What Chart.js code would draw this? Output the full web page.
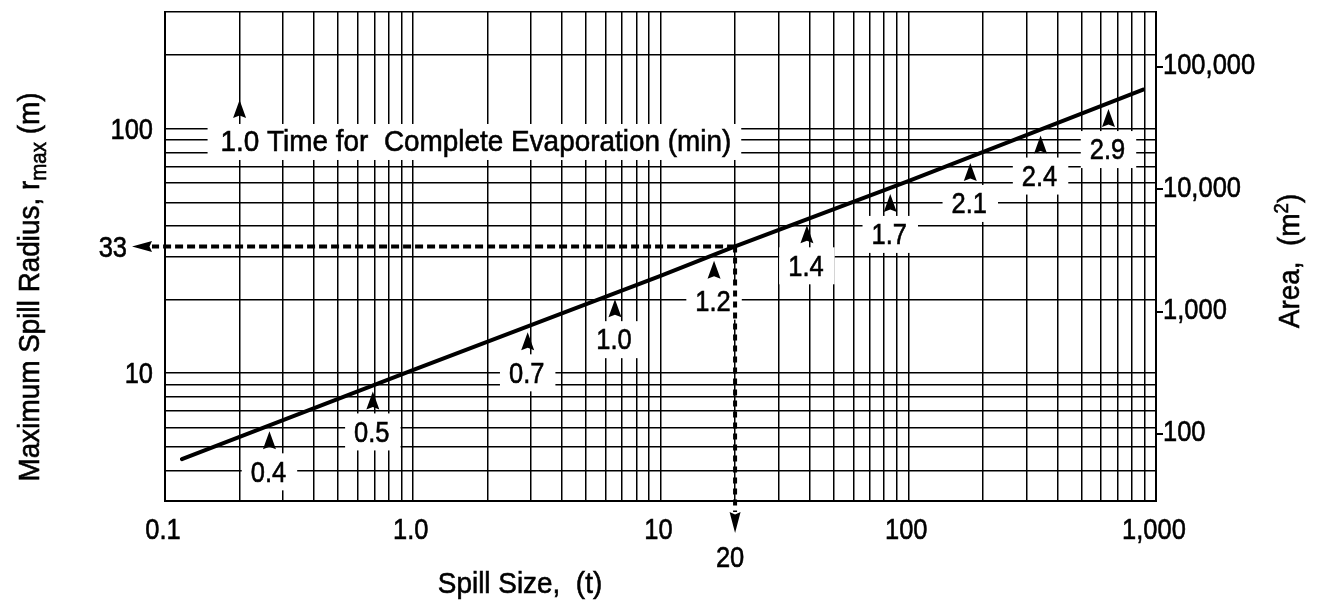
<!DOCTYPE html>
<html>
<head>
<meta charset="utf-8">
<script src="https://cdn.jsdelivr.net/npm/chart.js@4.4.1/dist/chart.umd.min.js"></script>
<style>
  html, body { margin: 0; padding: 0; background: #fff; }
  #wrap { width: 1322px; height: 604px; }
</style>
</head>
<body>
<div id="wrap"><canvas id="chart" width="1322" height="604"></canvas></div>
<script>
// Spill size (t) against maximum spill radius (m)
const spillSize   = [0.117, 1, 10, 20, 100, 887];
const spillRadius = [4.45, 10.3, 25.0, 33, 61, 144.5];

// Time for complete evaporation (min), marked along the curve at these spill sizes
const evapSpill = [0.264, 0.69, 2.91, 6.55, 16.45, 39.0, 84.6, 178, 342, 643];
const evapLabel = ['0.4', '0.5', '0.7', '1.0', '1.2', '1.4', '1.7', '2.1', '2.4', '2.9'];

// Key marker
const keySpill = 0.2;
const keyRadius = 131;
const keyText = '1.0 Time for  Complete Evaporation (min)';

// Worked example: a 20 t spill reaches a 33 m radius
const exampleSpill = 20;
const exampleRadius = 33;

// Axis ranges and labelled ticks
const xMin = 0.1, xMax = 1000;
const yMin = 3, yMax = 300;
const xTickValues = [0.1, 1, 10, 100, 1000];
const xTickLabels = ['0.1', '1.0', '10', '100', '1,000'];
const yTickValues = [10, 100];
const yTickLabels = ['10', '100'];
const areaTickValues = [100, 1000, 10000, 100000];
const areaTickLabels = ['100', '1,000', '10,000', '100,000'];

const INK = '#000';
const FONT = '"Liberation Sans", Arial, sans-serif';
const FS = 30;
const NUM_SQUEEZE = 0.85;   // condensed face for figures
const WORD_SQUEEZE = 0.93;  // condensed face for words
const TEXT_WEIGHT = 0.6;    // extra outline to darken the lettering

// every 1..9 multiple of each decade between min and max (log graph paper)
function logGrid(min, max) {
  const out = [];
  for (let e = Math.floor(Math.log10(min)); e <= Math.ceil(Math.log10(max)); e++) {
    for (let m = 1; m <= 9; m++) {
      const v = m * Math.pow(10, e);
      if (v >= min * 0.9999 && v <= max * 1.0001) out.push(v);
    }
  }
  return out;
}

// radius on the curve at spill size s (straight segments in log-log space)
function radiusOnCurve(s) {
  const ls = Math.log10(s);
  for (let i = 0; i < spillSize.length - 1; i++) {
    const a = Math.log10(spillSize[i]), b = Math.log10(spillSize[i + 1]);
    if (ls <= b || i === spillSize.length - 2) {
      const t = (ls - a) / (b - a);
      const ra = Math.log10(spillRadius[i]), rb = Math.log10(spillRadius[i + 1]);
      return Math.pow(10, ra + t * (rb - ra));
    }
  }
}

// condensed text helpers
function textWidth(ctx, text, squeeze) {
  return ctx.measureText(text).width * squeeze;
}
function ink(ctx, text, x, y) {
  ctx.fillText(text, x, y);
  ctx.strokeText(text, x, y);
}
function drawText(ctx, text, x, y, align, squeeze) {
  ctx.save();
  ctx.translate(x, y);
  ctx.scale(squeeze, 1);
  ctx.textAlign = align;
  ctx.textBaseline = 'middle';
  ctx.fillStyle = INK;
  ctx.strokeStyle = INK;
  ctx.lineWidth = TEXT_WEIGHT;
  ink(ctx, text, 0, 0);
  ctx.restore();
}
// a run of [text, fontSize, baselineShift] pieces centred on (x, y), optionally rotated
function drawRun(ctx, parts, x, y, angle, squeeze) {
  ctx.save();
  ctx.translate(x, y);
  ctx.rotate(angle);
  ctx.scale(squeeze, 1);
  ctx.textBaseline = 'middle';
  ctx.textAlign = 'left';
  ctx.fillStyle = INK;
  ctx.strokeStyle = INK;
  ctx.lineWidth = TEXT_WEIGHT;
  let total = 0;
  parts.forEach(p => { ctx.font = `${p[1]}px ${FONT}`; total += ctx.measureText(p[0]).width; });
  let cx = -total / 2;
  parts.forEach(p => {
    ctx.font = `${p[1]}px ${FONT}`;
    ink(ctx, p[0], cx, p[2]);
    cx += ctx.measureText(p[0]).width;
  });
  ctx.restore();
}

function arrowHead(ctx, x, y, dir, len, half) {
  ctx.save();
  ctx.translate(x, y);
  ctx.rotate({ up: 0, down: Math.PI, left: -Math.PI / 2 }[dir]);
  ctx.beginPath();
  ctx.moveTo(0, 0);
  ctx.lineTo(half, len);
  ctx.lineTo(0, len - 2.5);
  ctx.lineTo(-half, len);
  ctx.closePath();
  ctx.fillStyle = INK;
  ctx.fill();
  ctx.restore();
}

const overlay = {
  id: 'overlay',
  beforeDatasetsDraw(chart) {
    const { ctx } = chart;
    const xs = chart.scales.x, ys = chart.scales.y;
    ctx.save();
    ctx.font = `${FS}px ${FONT}`;

    // evaporation-time labels on white patches, arrows pointing at the curve
    evapSpill.forEach((s, i) => {
      const px = xs.getPixelForValue(s);
      const py = ys.getPixelForValue(radiusOnCurve(s));
      const labelY = py + 47;
      const w = textWidth(ctx, evapLabel[i], NUM_SQUEEZE);
      ctx.fillStyle = '#fff';
      ctx.fillRect(px - w / 2 - 10, labelY - 19, w + 20, 37);
      drawText(ctx, evapLabel[i], px - 1, labelY + 1, 'center', NUM_SQUEEZE);
      arrowHead(ctx, px, py + 6, 'up', 18, 6.5);
    });

    // key
    const kx = xs.getPixelForValue(keySpill);
    const ky = ys.getPixelForValue(keyRadius);
    const kLeft = kx - 19, kMid = ky + 42;
    const kw = textWidth(ctx, keyText, WORD_SQUEEZE);
    ctx.fillStyle = '#fff';
    ctx.fillRect(kLeft - 13, kMid - 18, kw + 23, 36);
    drawText(ctx, keyText, kLeft, kMid + 1, 'left', WORD_SQUEEZE);
    arrowHead(ctx, kx, ky, 'up', 18, 6.5);

    // worked example: dashed read-off lines with arrows
    const ex = xs.getPixelForValue(exampleSpill);
    const ey = ys.getPixelForValue(exampleRadius);
    const leftArrowBase = chart.chartArea.left - 13;
    const downArrowBase = chart.chartArea.bottom + 11;
    ctx.strokeStyle = INK;
    ctx.lineWidth = 4;
    ctx.setLineDash([8, 4]);
    ctx.beginPath();
    ctx.moveTo(ex, ey);
    ctx.lineTo(leftArrowBase, ey);
    ctx.stroke();
    ctx.setLineDash([6, 5]);
    ctx.beginPath();
    ctx.moveTo(ex, ey);
    ctx.lineTo(ex, downArrowBase);
    ctx.stroke();
    ctx.setLineDash([]);
    arrowHead(ctx, leftArrowBase - 20, ey, 'left', 20, 5.5);
    arrowHead(ctx, ex, downArrowBase + 21, 'down', 21, 5.5);

    drawText(ctx, String(exampleRadius), leftArrowBase - 25, ey + 2, 'right', NUM_SQUEEZE);
    drawText(ctx, String(exampleSpill), ex - 5, downArrowBase + 47, 'center', NUM_SQUEEZE);
    ctx.restore();
  },
  afterDraw(chart) {
    const { ctx } = chart;
    const xs = chart.scales.x, ys = chart.scales.y, as = chart.scales.area;
    const area = chart.chartArea;
    ctx.save();
    ctx.font = `${FS}px ${FONT}`;

    // tick labels
    xTickValues.forEach((v, i) => {
      drawText(ctx, xTickLabels[i], xs.getPixelForValue(v) - 2, area.bottom + 30, 'center', NUM_SQUEEZE);
    });
    yTickValues.forEach((v, i) => {
      drawText(ctx, yTickLabels[i], area.left - 12, ys.getPixelForValue(v) + 2, 'right', NUM_SQUEEZE);
    });
    areaTickValues.forEach((v, i) => {
      drawText(ctx, areaTickLabels[i], area.right + 7, as.getPixelForValue(v) - 1, 'left', NUM_SQUEEZE);
    });

    // axis titles
    drawRun(ctx, [['Maximum Spill Radius, r', FS, 0], ['max', 22, 9], [' (m)', FS, 0]],
      31, 287, -Math.PI / 2, WORD_SQUEEZE);
    drawRun(ctx, [['Area,  (m', FS, 0], ['2', 20, -9], [')', FS, 0]],
      1291, 261, -Math.PI / 2, WORD_SQUEEZE);
    drawRun(ctx, [['Spill Size,  (t)', FS, 0]], 520, 585, 0, WORD_SQUEEZE);
    ctx.restore();
  }
};

const gridStyle = { color: INK, lineWidth: 1.5, drawTicks: false };
const noPad = s => { s.paddingTop = 0; s.paddingBottom = 0; s.paddingLeft = 0; s.paddingRight = 0; };

new Chart(document.getElementById('chart'), {
  type: 'line',
  data: {
    datasets: [{
      data: spillSize.map((s, i) => ({ x: s, y: spillRadius[i] })),
      borderColor: INK,
      borderWidth: 4,
      borderCapStyle: 'round',
      pointRadius: 0,
      tension: 0,
      fill: false
    }]
  },
  options: {
    responsive: false,
    animation: false,
    devicePixelRatio: 1,
    layout: { padding: { top: 12, left: 0, right: 0, bottom: 0 } },
    plugins: { legend: { display: false }, tooltip: { enabled: false } },
    scales: {
      x: {
        type: 'logarithmic', min: xMin, max: xMax,
        afterBuildTicks: s => { s.ticks = logGrid(xMin, xMax).map(v => ({ value: v })); },
        afterFit: s => { s.height = 103; noPad(s); },
        grid: gridStyle,
        border: { display: true, color: INK, width: 2 },
        ticks: { display: false, autoSkip: false }
      },
      y: {
        type: 'logarithmic', position: 'left', min: yMin, max: yMax,
        afterBuildTicks: s => { s.ticks = logGrid(yMin, yMax).map(v => ({ value: v })); },
        afterFit: s => { s.width = 165; noPad(s); },
        grid: gridStyle,
        border: { display: true, color: INK, width: 2 },
        ticks: { display: false, autoSkip: false }
      },
      area: {
        type: 'logarithmic', position: 'right',
        min: Math.PI * yMin * yMin, max: Math.PI * yMax * yMax,
        afterBuildTicks: s => { s.ticks = areaTickValues.map(v => ({ value: v })); },
        afterFit: s => { s.width = 166; noPad(s); },
        grid: { drawOnChartArea: false, drawTicks: true, tickLength: 7, color: INK, lineWidth: 2 },
        border: { display: true, color: INK, width: 2 },
        ticks: { display: false, autoSkip: false }
      }
    }
  },
  plugins: [overlay]
});
</script>
</body>
</html>
